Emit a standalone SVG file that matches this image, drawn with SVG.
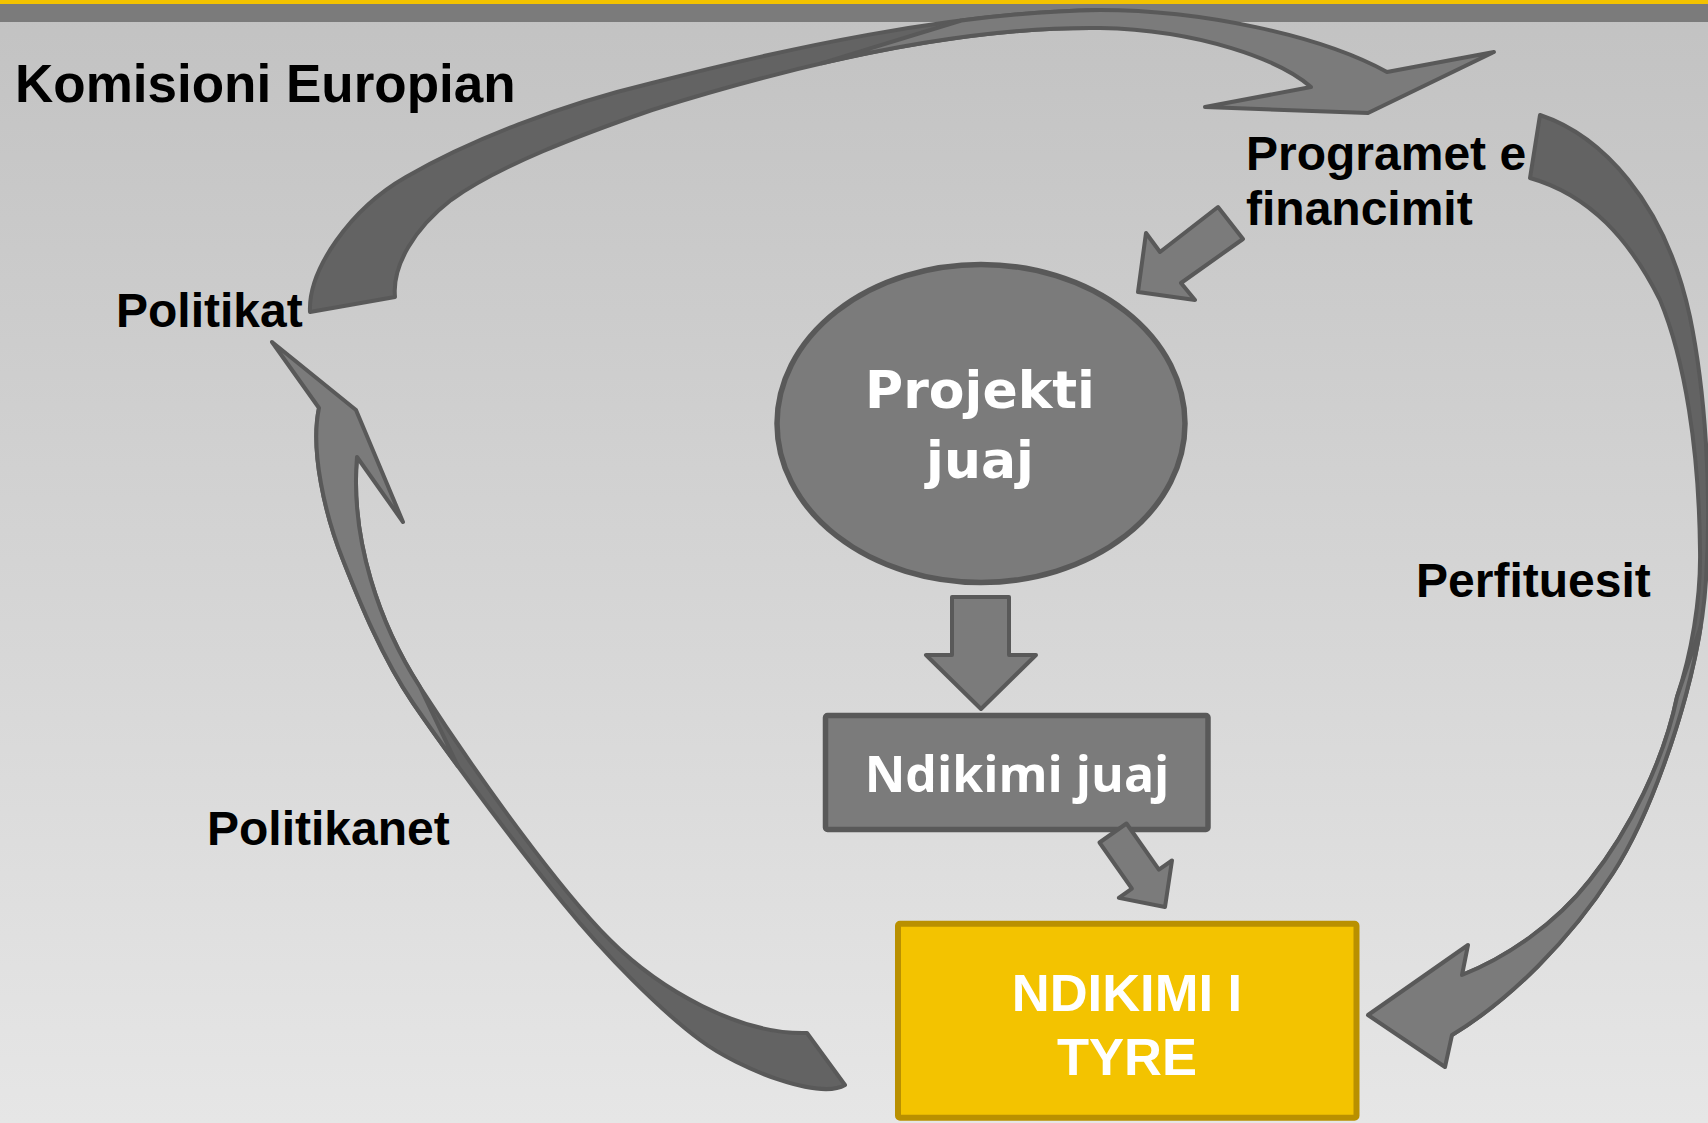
<svg xmlns="http://www.w3.org/2000/svg" width="1708" height="1123" viewBox="0 0 1708 1123">
  <defs>
    <linearGradient id="bg" x1="0" y1="0" x2="0" y2="1">
      <stop offset="0" stop-color="#c2c2c2"/>
      <stop offset="1" stop-color="#e6e6e6"/>
    </linearGradient>
    <style>
      .lbl { font-family: "Liberation Sans", Arial, sans-serif; font-weight: bold; font-size: 48px; fill: #000; }
      .face { fill: #7b7b7b; stroke: #595959; stroke-width: 4; stroke-linejoin: round; }
      .back { fill: #636363; stroke: #595959; stroke-width: 4; stroke-linejoin: round; }
      .node { fill: #7b7b7b; stroke: #595959; stroke-width: 5.5; stroke-linejoin: round; }
      .white { fill: #fff; font-weight: bold; text-anchor: middle; }
    </style>
  </defs>

  <!-- background -->
  <rect x="0" y="0" width="1708" height="1123" fill="url(#bg)"/>
  <rect x="0" y="0" width="1708" height="22" fill="#7b7b7b"/>
  <rect x="0" y="0" width="1708" height="4" fill="#f3c300"/>

  <!-- labels -->
  <g id="komisioni-europian">
    <text class="lbl" x="15" y="102" style="font-size:53px">Komisioni Europian</text>
  </g>
  <g id="politikat">
    <text class="lbl" x="116" y="327">Politikat</text>
  </g>
  <g id="programet">
    <text class="lbl" x="1246" y="170">Programet e</text>
    <text class="lbl" x="1246" y="225">financimit</text>
  </g>
  <g id="perfituesit">
    <text class="lbl" x="1416" y="597">Perfituesit</text>
  </g>
  <g id="politikanet">
    <text class="lbl" x="207" y="845">Politikanet</text>
  </g>

  <!-- connectors -->
  <g id="connectors">
    <!-- top curved arrow: Politikat -> Programet -->
    <path class="back" d="M310,312 C308,270 350,209 406,177 C470,140 560,105 652,83 C780,50 950,12 1100,10 L1100,28 C950,26 780,70 652,110 C580,135 500,165 451,200 C415,228 392,265 395,297 Z"/>
    <path class="face" d="M821.4,63.3 L961.3,20.5 C1008.2,14.4 1055,10.6 1100,10 C1200,10 1320,35 1387,72 L1494,52 L1368,113 L1205,107 L1311,87 C1280,60 1200,30 1100,28 C1010,26.8 912.8,42.2 821.4,63.3 Z"/>

    <!-- right curved arrow: Programet -> Ndikimi i tyre -->
    <path class="back" d="M1540,115 C1600,135 1665,200 1690,317 C1705,390 1712,490 1706,580 C1700,680 1652,813 1613,873 C1570,940 1510,1000 1452,1035 L1462,975 C1505,958 1555,925 1590,880 C1630,830 1664,760 1677,697 C1691,655 1701,600 1700,550 C1699,450 1685,360 1660,300 C1630,240 1590,195 1530,178 Z"/>
    <path class="face" d="M1452,1035 L1445,1067 L1368,1015 L1468,945 L1462,975 C1505,958 1555,925 1590,880 C1630,830 1664,760 1677,697 L1700.6,626.9 C1685.8,718.3 1646.2,822 1613,873 C1570,940 1510,1000 1452,1035 Z"/>

    <!-- left curved arrow: Ndikimi i tyre -> Politikat -->
    <path class="back" d="M319,408 C310,450 325,515 343,560 C355,590 380,655 413,703 C459,770 520,850 563,903 C606,956 660,1010 700,1040 C740,1070 820,1100 845,1085 L807,1033 C740,1035 660,990 610,940 C560,890 480,780 420,687 C380,625 350,540 357,457 Z"/>
    <path class="face" d="M272,342 L356,410 L403,522 L357,457 C350,540 380,625 420,687 L457.6,765.7 C442,744.4 426.8,723.1 413,703 C380,655 355,590 343,560 C325,515 310,450 319,408 Z"/>

    <!-- Programet -> Projekti -->
    <polygon class="face" points="1218,207 1243,239 1181,283 1195,300 1138,292 1146,233 1160,252"/>
    <!-- Projekti -> Ndikimi juaj -->
    <polygon class="face" points="952,597 1009,597 1009,655 1036,655 981,709 926,655 952,655"/>
  </g>

  <!-- nodes -->
  <g id="projekti-juaj">
    <ellipse class="node" cx="981" cy="423.5" rx="204" ry="159"/>
    <text class="white" x="980" y="408" style="font-family:'DejaVu Sans', Verdana, sans-serif; font-size:52px">Projekti</text>
    <text class="white" x="980" y="478" style="font-family:'DejaVu Sans', Verdana, sans-serif; font-size:52px">juaj</text>
  </g>

  <g id="ndikimi-juaj">
    <rect class="node" x="825.5" y="715.5" width="382.5" height="114" rx="2"/>
    <text class="white" x="1017" y="792" style="font-family:'Open Sans', 'Liberation Sans', sans-serif; font-size:50px">Ndikimi juaj</text>
  </g>

  <g id="connector-ndikimi">
    <polygon class="face" points="1126.5,823.5 1158.9,869.7 1172,860.5 1165,907 1118.8,897.9 1131.9,888.7 1099.5,842.5"/>
  </g>

  <g id="ndikimi-tyre">
    <rect x="898" y="923.7" width="458.5" height="194" rx="2" fill="#f3c300" stroke="#b99000" stroke-width="6"/>
    <text class="white" x="1127" y="1011" style="font-family:'Liberation Sans', Arial, sans-serif; font-size:52.5px">NDIKIMI I</text>
    <text class="white" x="1127" y="1075" style="font-family:'Liberation Sans', Arial, sans-serif; font-size:52.5px">TYRE</text>
  </g>
</svg>
